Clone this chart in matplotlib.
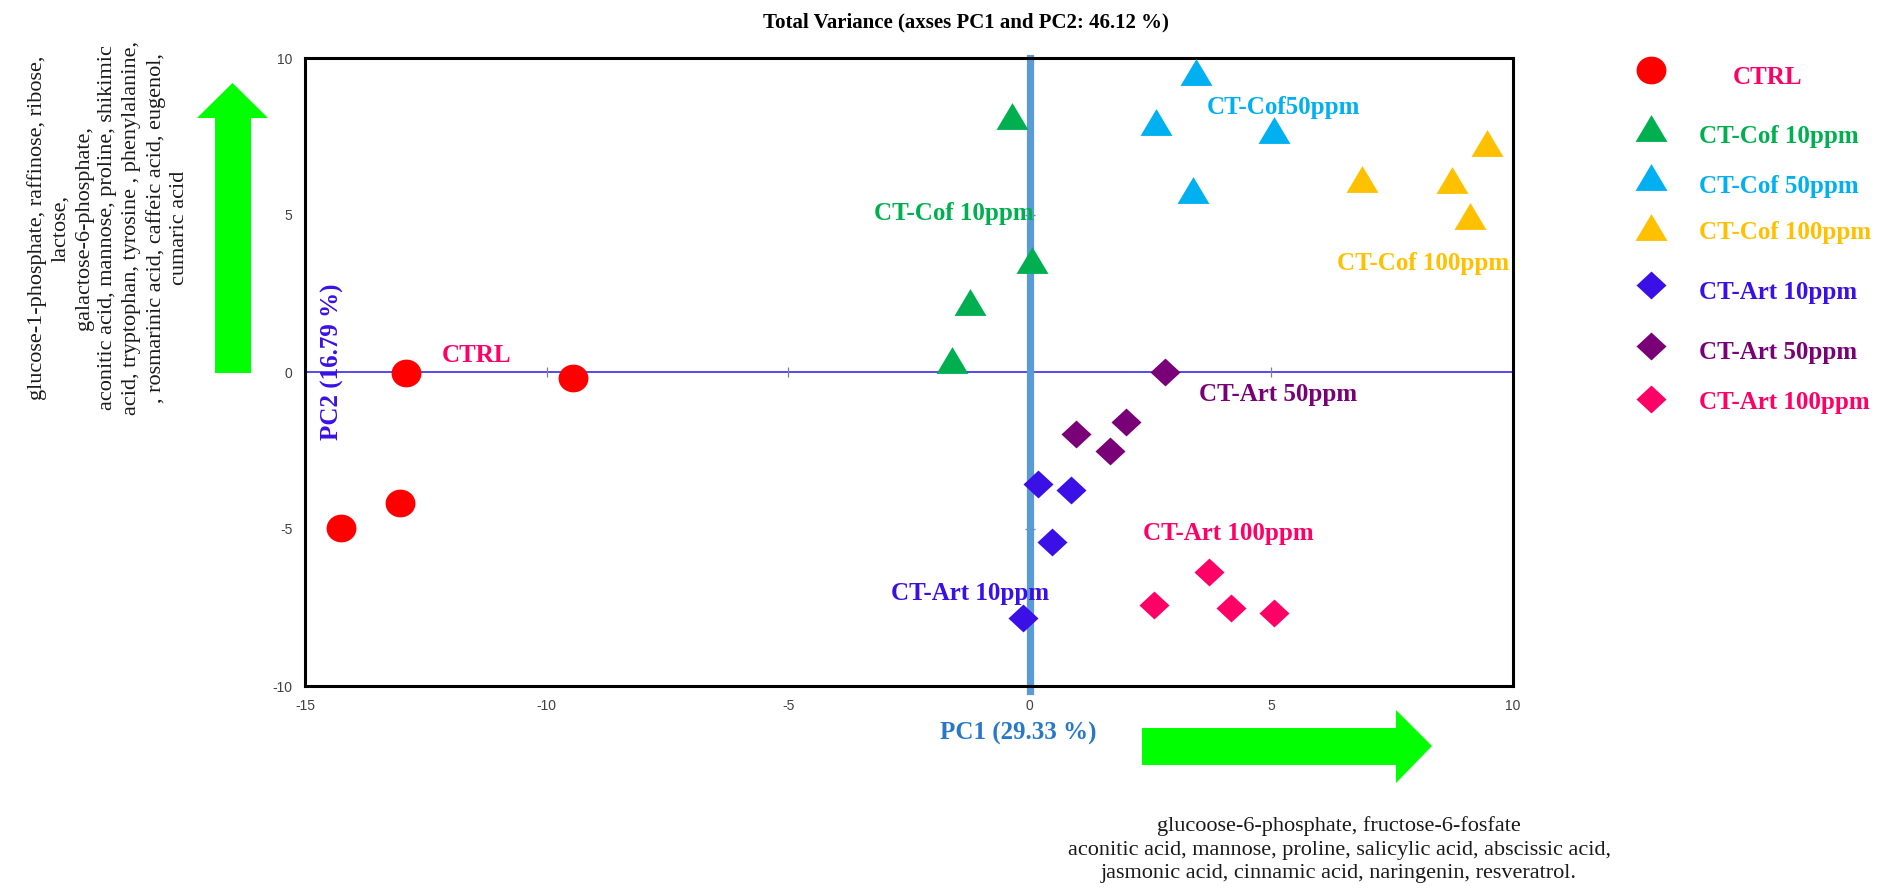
import numpy as np
import matplotlib
matplotlib.use("Agg")
import matplotlib.pyplot as plt
from matplotlib.path import Path
from matplotlib.patches import Polygon

plt.rcParams['axes.unicode_minus'] = False

# ---------------- data ----------------
ctrl_x = [-12.92, -9.46, -13.04, -14.25]
ctrl_y = [-0.04, -0.20, -4.16, -4.97]
cof10_x = [-0.37, 0.04, -1.23, -1.60]
cof10_y = [8.14, 3.56, 2.23, 0.38]
cof50_x = [3.44, 2.62, 5.05, 3.37]
cof50_y = [9.56, 7.97, 7.71, 5.79]
cof100_x = [6.88, 8.73, 9.47, 9.10]
cof100_y = [6.14, 6.12, 7.29, 4.96]
art10_x = [0.16, 0.86, 0.46, -0.15]
art10_y = [-3.58, -3.77, -5.40, -7.82]
art50_x = [2.80, 2.00, 0.95, 1.66]
art50_y = [0.01, -1.58, -1.98, -2.51]
art100_x = [3.70, 2.57, 4.16, 5.05]
art100_y = [-6.38, -7.42, -7.53, -7.66]

legend_labels = ["CTRL", "CT-Cof 10ppm", "CT-Cof 50ppm", "CT-Cof 100ppm",
                 "CT-Art 10ppm", "CT-Art 50ppm", "CT-Art 100ppm"]
plot_labels = ["CTRL", "CT-Cof 10ppm", "CT-Cof50ppm", "CT-Cof 100ppm",
               "CT-Art 10ppm", "CT-Art 50ppm", "CT-Art 100ppm"]
x_ticks = [-15, -10, -5, 0, 5, 10]
y_ticks = [-10, -5, 0, 5, 10]

title = "Total Variance (axses PC1 and PC2: 46.12 %)"
pc1_label = "PC1 (29.33 %)"
pc2_label = "PC2 (16.79 %)"
left_text = ("glucose-1-phosphate, raffinose, ribose,\nlactose,\ngalactose-6-phosphate,\n"
             "aconitic acid, mannose, proline, shikimic\nacid, tryptophan, tyrosine , phenylalanine,\n"
             ", rosmarinic acid, caffeic acid, eugenol,\ncumaric acid")
bottom_text = ("glucoose-6-phosphate, fructose-6-fosfate\n"
               "aconitic acid, mannose, proline, salicylic acid, abscissic acid,\n"
               "jasmonic acid, cinnamic acid, naringenin, resveratrol.")

# ---------------- styles ----------------
marker_colors = ['#FF0000', '#00B050', '#00B0F0', '#FFC000', '#3B10E6', '#7A0078', '#FF0066']
text_colors = ['#FF0066', '#00B050', '#00B0F0', '#FFC000', '#3B10E6', '#7A0078', '#FF0066']

t = np.linspace(0, 2 * np.pi, 60)
ellipse = Path(np.column_stack([np.cos(t), 0.93 * np.sin(t)]), closed=True)
tri = Path([(-1, -0.84), (1, -0.84), (0, 0.84), (-1, -0.84)], closed=True)
diam = Path([(0, 0.93), (1, 0), (0, -0.93), (-1, 0), (0, 0.93)], closed=True)
markers = [ellipse, tri, tri, tri, diam, diam, diam]
msizes = [21.5, 23.0, 23.0, 23.0, 21.6, 21.6, 21.6]

series = [(ctrl_x, ctrl_y), (cof10_x, cof10_y), (cof50_x, cof50_y), (cof100_x, cof100_y),
          (art10_x, art10_y), (art50_x, art50_y), (art100_x, art100_y)]

W, H = 1881, 891
fig = plt.figure(figsize=(W / 100, H / 100), dpi=100)
ax_l, ax_r, ax_t, ax_b = 305, 1513, 58, 686
ax = fig.add_axes([ax_l / W, 1 - ax_b / H, (ax_r - ax_l) / W, (ax_b - ax_t) / H])
ax.set_xlim(-15, 10)
ax.set_ylim(-10, 10)
ax.set_xticks(x_ticks)
ax.set_yticks(y_ticks)
ax.tick_params(length=0, labelsize=10, colors='#404040', pad=9)
for lab in ax.get_xticklabels() + ax.get_yticklabels():
    lab.set_fontfamily('Liberation Sans')
for s in ax.spines.values():
    s.set_linewidth(2.2)
    s.set_color('black')

ax.axhline(0, color='#5548F0', lw=1.4, zorder=1)
ax.axvline(0, ymin=-0.008, ymax=1, color='#5B9BD5', lw=5.2, zorder=1, clip_on=False)

# small tick marks on the crossing zero axes
inner_x = [v for v in x_ticks if v not in (0, x_ticks[0], x_ticks[-1])]
inner_y = [v for v in y_ticks if v not in (0, y_ticks[0], y_ticks[-1])]
ax.plot(inner_x, [0] * len(inner_x), linestyle='none', marker='|', markersize=7,
        color='#808080', markeredgewidth=0.9, zorder=2)
ax.plot([0] * len(inner_y), inner_y, linestyle='none', marker='_', markersize=7,
        color='#808080', markeredgewidth=0.9, zorder=0.5)

for (xs, ys), c, m, ms in zip(series, marker_colors, markers, msizes):
    ax.plot(xs, ys, linestyle='none', marker=m, markersize=ms, color=c,
            markeredgewidth=0, zorder=3, clip_on=False)

serif = 'Liberation Serif'
label_pos = [(-11.45, 0.54), (-1.57, 5.06), (5.24, 8.41), (8.14, 3.47),
             (-1.24, -7.07), (5.13, -0.73), (4.10, -5.13)]
for (lx, ly), txt, c in zip(label_pos, plot_labels, text_colors):
    ax.text(lx, ly, txt, color=c, fontsize=18, fontweight='bold', family=serif,
            ha='center', va='center', zorder=4)

ax.text(-14.43, 0.32, pc2_label, rotation=90, color='#3B10E6', fontsize=18,
        fontweight='bold', family=serif, ha='center', va='center', zorder=4)

# ---------------- overlay in pixel coords ----------------
ov = fig.add_axes([0, 0, 1, 1], facecolor='none', zorder=5)
ov.set_xlim(0, W)
ov.set_ylim(H, 0)
ov.axis('off')

ov.text(966, 22, title, fontsize=15, fontweight='bold', family=serif,
        ha='center', va='center', color='black')
ov.text(1018, 733, pc1_label, fontsize=18, fontweight='bold', family=serif,
        ha='center', va='center', color='#2878C8')

ov.text(108, 228, left_text, rotation=90, fontsize=16, family=serif, ha='center',
        va='center', multialignment='center', linespacing=1.32, color='#1a1a1a')
ov.text(1339, 850, bottom_text, fontsize=16, family=serif, ha='center',
        va='center', multialignment='center', linespacing=1.32, color='#1a1a1a')

green = '#00FF00'
ov.add_patch(Polygon([(215, 373), (251, 373), (251, 118), (268, 118), (232.5, 83),
                      (197, 118), (215, 118)], closed=True, color=green, lw=0))
ov.add_patch(Polygon([(1142, 728), (1396, 728), (1396, 710), (1432, 746),
                      (1396, 783), (1396, 765), (1142, 765)], closed=True, color=green, lw=0))

leg_mx = 1651
leg_my = [70, 128, 177, 227, 285, 346, 399]
leg_ty = [77, 137, 186, 233, 292, 352, 403]
for i, (lab, c, tc, m, ms) in enumerate(zip(legend_labels, marker_colors, text_colors, markers, msizes)):
    ov.plot([leg_mx], [leg_my[i]], linestyle='none', marker=m, markersize=ms,
            color=c, markeredgewidth=0)
    if i == 0:
        ov.text(1767, leg_ty[i], lab, color=tc, fontsize=18, fontweight='bold',
                family=serif, ha='center', va='center')
    else:
        ov.text(1699, leg_ty[i], lab, color=tc, fontsize=18, fontweight='bold',
                family=serif, ha='left', va='center')

fig.savefig('out.png', dpi=100)
